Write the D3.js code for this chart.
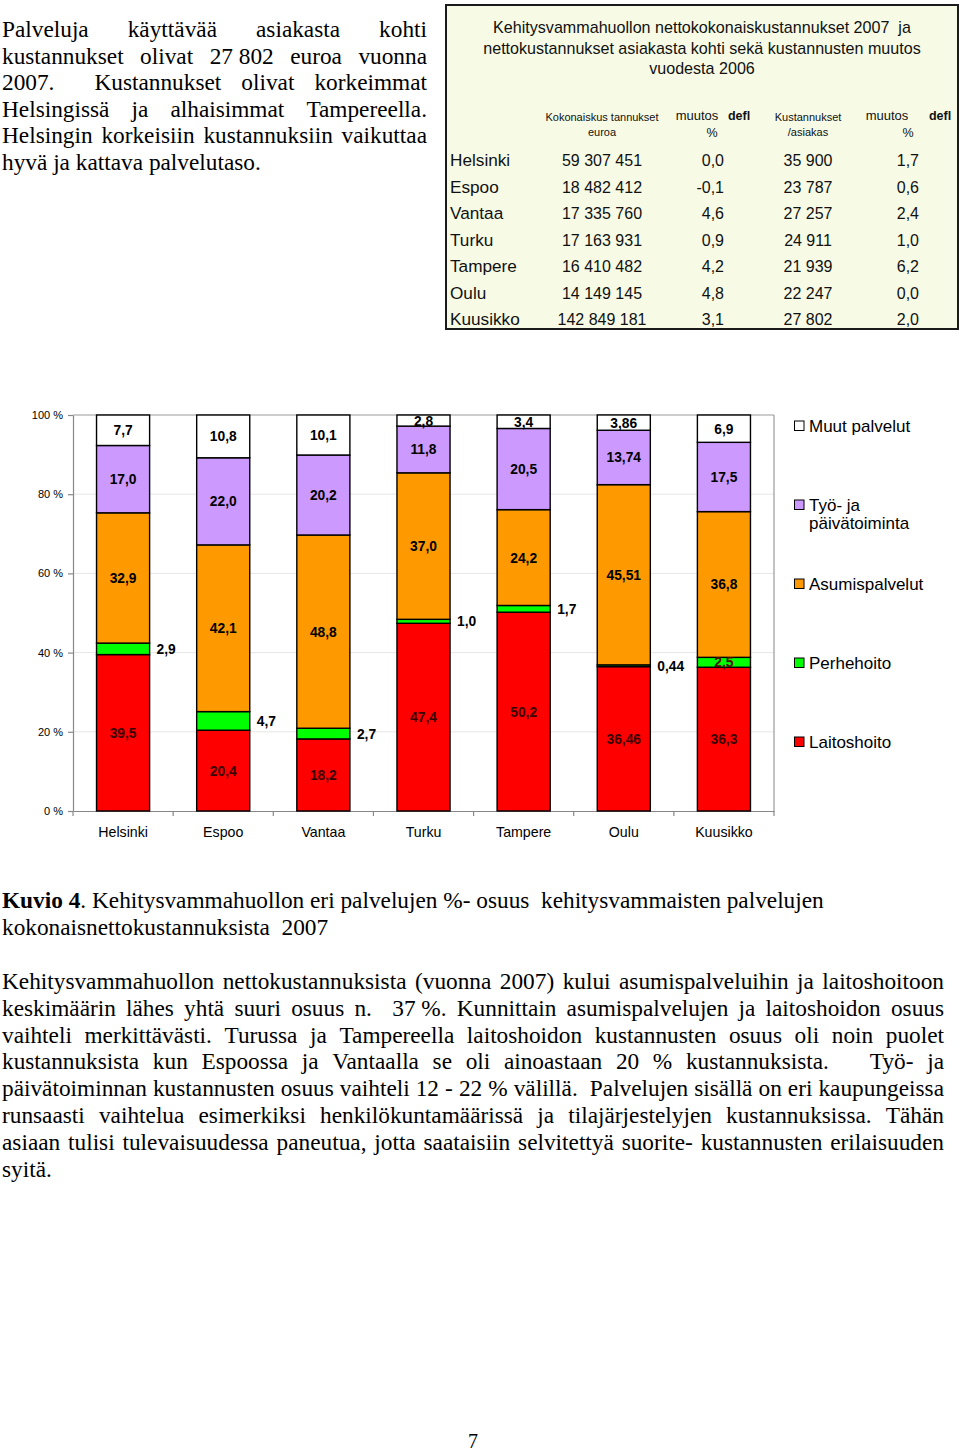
<!DOCTYPE html>
<html>
<head>
<meta charset="utf-8">
<script src="https://cdn.jsdelivr.net/npm/d3@7"></script>
<style>
  html, body { margin: 0; padding: 0; background: #fff; }
  svg { display: block; }
  .pre { white-space: pre; }
</style>
</head>
<body>
<script>
// ---------------- DATA ----------------
const cities = ["Helsinki", "Espoo", "Vantaa", "Turku", "Tampere", "Oulu", "Kuusikko"];
const seriesKeys = ["Laitoshoito", "Perhehoito", "Asumispalvelut", "Työ- ja päivätoiminta", "Muut palvelut"];
const laitoshoito      = [39.5, 20.4, 18.2, 47.4, 50.2, 36.46, 36.3];
const perhehoito       = [2.9, 4.7, 2.7, 1.0, 1.7, 0.44, 2.5];
const asumispalvelut   = [32.9, 42.1, 48.8, 37.0, 24.2, 45.51, 36.8];
const tyoJaPaivatoiminta = [17.0, 22.0, 20.2, 11.8, 20.5, 13.74, 17.5];
const muutPalvelut     = [7.7, 10.8, 10.1, 2.8, 3.4, 3.86, 6.9];
const labelDecimals    = [1, 1, 1, 1, 1, 2, 1];
const yTicks = [0, 20, 40, 60, 80, 100];

// table
const tableTitle = ["Kehitysvammahuollon nettokokonaiskustannukset 2007  ja",
                    "nettokustannukset asiakasta kohti sekä kustannusten muutos",
                    "vuodesta 2006"];
const totalCosts      = [59307451, 18482412, 17335760, 17163931, 16410482, 14149145, 142849181];
const totalChange     = [0.0, -0.1, 4.6, 0.9, 4.2, 4.8, 3.1];
const costPerClient   = [35900, 23787, 27257, 24911, 21939, 22247, 27802];
const perClientChange = [1.7, 0.6, 2.4, 1.0, 6.2, 0.0, 2.0];

// texts
const introLines = [
  "Palveluja käyttävää asiakasta kohti",
  "kustannukset olivat 27\u00a0802 euroa vuonna",
  "2007.  Kustannukset olivat korkeimmat",
  "Helsingissä ja alhaisimmat Tampereella.",
  "Helsingin korkeisiin kustannuksiin vaikuttaa",
  "hyvä ja kattava palvelutaso."
];
const captionBold = "Kuvio 4";
const captionRest = ". Kehitysvammahuollon eri palvelujen %- osuus  kehitysvammaisten palvelujen";
const captionLine2 = "kokonaisnettokustannuksista  2007";
const bodyLines = [
  "Kehitysvammahuollon nettokustannuksista (vuonna 2007) kului asumispalveluihin ja laitoshoitoon",
  "keskimäärin lähes yhtä suuri osuus n.  37\u00a0%. Kunnittain asumispalvelujen ja laitoshoidon osuus",
  "vaihteli merkittävästi. Turussa ja Tampereella laitoshoidon kustannusten osuus oli noin puolet",
  "kustannuksista kun Espoossa ja Vantaalla se oli ainoastaan 20 % kustannuksista.   Työ- ja",
  "päivätoiminnan kustannusten osuus vaihteli 12 - 22 % välillä.  Palvelujen sisällä on eri kaupungeissa",
  "runsaasti vaihtelua esimerkiksi henkilökuntamäärissä ja tilajärjestelyjen kustannuksissa. Tähän",
  "asiaan tulisi tulevaisuudessa paneutua, jotta saataisiin selvitettyä suorite- kustannusten erilaisuuden",
  "syitä."
];
const pageNumber = "7";

// ---------------- STYLE ----------------
const SERIF = "'Liberation Serif','Times New Roman',serif";
const SANS = "'Liberation Sans',Arial,Helvetica,sans-serif";
const TEXT_SIZE = 23.3;
const colors = {
  "Laitoshoito": "#ff0000",
  "Perhehoito": "#00ff00",
  "Asumispalvelut": "#ff9900",
  "Työ- ja päivätoiminta": "#cc99ff",
  "Muut palvelut": "#ffffff"
};

const svg = d3.select("body").append("svg")
  .attr("width", 960).attr("height", 1453)
  .style("background", "#fff");

// ---------- justified text helper ----------
function drawLine(text, x0, x1, yBase, size, justify) {
  const g = svg.append("g");
  const words = text.split(" ");
  const tmp = svg.append("text").style("font-family", SERIF).style("font-size", size + "px");
  const widths = words.map(w => { tmp.text(w); return w === "" ? 0 : tmp.node().getComputedTextLength(); });
  tmp.text("a b"); const wab = tmp.node().getComputedTextLength();
  tmp.text("ab"); const spaceW = wab - tmp.node().getComputedTextLength();
  tmp.remove();
  const W = x1 - x0;
  const sum = d3.sum(widths);
  const n = words.length;
  let gap = spaceW, scale = 1;
  if (justify && n > 1) {
    gap = (W - sum) / (n - 1);
    const minGap = spaceW * 0.5;
    if (gap < minGap) { gap = minGap; scale = W / (sum + minGap * (n - 1)); }
  }
  const t = g.append("text")
    .attr("transform", `translate(${x0},${yBase}) scale(${scale},1)`)
    .style("font-family", SERIF).style("font-size", size + "px").attr("fill", "#000");
  let cx = 0;
  words.forEach((w, i) => {
    if (w !== "") t.append("tspan").attr("x", cx).attr("y", 0).text(w);
    cx += widths[i] + gap;
  });
}

// ---------- intro paragraph ----------
introLines.forEach((l, i) => {
  drawLine(l, 2, 427, 37 + i * 26.6, TEXT_SIZE, i < introLines.length - 1);
});

// ---------- table ----------
const tbl = svg.append("g");
tbl.append("rect").attr("x", 446).attr("y", 5).attr("width", 512).attr("height", 324)
  .attr("fill", "#f7fbe6").attr("stroke", "#1a1a1a").attr("stroke-width", 2);
tableTitle.forEach((t, i) => {
  tbl.append("text").attr("class", "pre").attr("x", 702).attr("y", 33 + i * 20.5).attr("text-anchor", "middle")
    .style("font-family", SANS).style("font-size", "16.1px").attr("fill", "#111").text(t);
});
function ttext(x, y, txt, size, anchor, bold) {
  tbl.append("text").attr("x", x).attr("y", y).attr("text-anchor", anchor || "middle")
    .style("font-family", SANS).style("font-size", size + "px")
    .style("font-weight", bold ? "bold" : "normal").attr("fill", "#111").text(txt);
}
ttext(602, 121, "Kokonaiskus tannukset", 11);
ttext(602, 136, "euroa", 11);
ttext(697, 120, "muutos", 13);
ttext(739, 120, "defl", 12.5, "middle", true);
ttext(712, 137, "%", 12.5);
ttext(808, 121, "Kustannukset", 11);
ttext(808, 136, "/asiakas", 11);
ttext(887, 120, "muutos", 13);
ttext(940, 120, "defl", 12.5, "middle", true);
ttext(908, 137, "%", 12.5);

const fmtInt = v => d3.format(",")(v).replace(/,/g, " ");
const fmt1 = v => d3.format(".1f")(v).replace(".", ",").replace("−", "-");
cities.forEach((c, i) => {
  const yb = 166 + i * 26.5;
  ttext(450, yb, c, 17.2, "start");
  ttext(602, yb, fmtInt(totalCosts[i]), 16);
  ttext(724, yb, fmt1(totalChange[i]), 16, "end");
  ttext(808, yb, fmtInt(costPerClient[i]), 16);
  ttext(919, yb, fmt1(perClientChange[i]), 16, "end");
});

// ---------- chart ----------
const x = d3.scaleBand().domain(cities).range([73, 774]).paddingInner(0.47).paddingOuter(0.235);
const y = d3.scaleLinear().domain([0, 100]).range([811, 415]);
const chart = svg.append("g");

// gridlines
chart.append("g").selectAll("line").data(yTicks.filter(d => d > 0 && d < 100)).join("line")
  .attr("x1", 73).attr("x2", 774).attr("y1", d => y(d)).attr("y2", d => y(d))
  .attr("stroke", "#e6e6e6").attr("stroke-width", 1);
// plot border top & right
chart.append("line").attr("x1", 73).attr("x2", 774).attr("y1", y(100)).attr("y2", y(100))
  .attr("stroke", "#9a9a9a").attr("stroke-width", 1.2);
chart.append("line").attr("x1", 774).attr("x2", 774).attr("y1", y(100)).attr("y2", y(0))
  .attr("stroke", "#9a9a9a").attr("stroke-width", 1.2);

// y axis
const yAxis = chart.append("g").attr("transform", "translate(73,0)")
  .call(d3.axisLeft(y).tickValues(yTicks).tickSize(5).tickPadding(5).tickSizeOuter(0)
    .tickFormat(d => d + " %"));
yAxis.selectAll("path,line").attr("stroke", "#888").attr("stroke-width", 1.2);
yAxis.selectAll("text").style("font-family", SANS).style("font-size", "11px").attr("fill", "#000");

// x axis
const xAxis = chart.append("g").attr("transform", `translate(0,${y(0)})`)
  .call(d3.axisBottom(x).tickSize(0).tickPadding(16).tickSizeOuter(0));
xAxis.select(".domain").attr("stroke", "#888").attr("stroke-width", 1.2);
xAxis.selectAll("text").style("font-family", SANS).style("font-size", "14.2px").attr("fill", "#000");
xAxis.append("g").selectAll("line").data(d3.range(cities.length + 1)).join("line")
  .attr("x1", i => x.range()[0] + i * x.step()).attr("x2", i => x.range()[0] + i * x.step())
  .attr("y1", 0).attr("y2", 5).attr("stroke", "#888").attr("stroke-width", 1.2);

// stack
const rows = cities.map((c, i) => ({
  city: c,
  "Laitoshoito": laitoshoito[i],
  "Perhehoito": perhehoito[i],
  "Asumispalvelut": asumispalvelut[i],
  "Työ- ja päivätoiminta": tyoJaPaivatoiminta[i],
  "Muut palvelut": muutPalvelut[i]
}));
const stacked = d3.stack().keys(seriesKeys)(rows);

const layers = chart.append("g").selectAll("g").data(stacked).join("g")
  .attr("fill", d => colors[d.key]);
layers.selectAll("rect").data(d => d).join("rect")
  .attr("x", d => x(d.data.city))
  .attr("y", d => y(d[1]))
  .attr("width", x.bandwidth())
  .attr("height", d => y(d[0]) - y(d[1]))
  .attr("stroke", "#000").attr("stroke-width", 1.4);

// value labels
const labels = chart.append("g");
stacked.forEach(layer => {
  layer.forEach((d, i) => {
    const v = d[1] - d[0];
    const txt = d3.format(`.${labelDecimals[i]}f`)(v).replace(".", ",");
    const cy = y((d[0] + d[1]) / 2);
    const outside = layer.key === "Perhehoito" && d.data.city !== "Kuusikko";
    let fill = "#000";
    if (layer.key === "Laitoshoito") fill = "#3a0000";
    if (layer.key === "Perhehoito" && !outside) fill = "#4a1000";
    labels.append("text")
      .attr("x", outside ? x(d.data.city) + x.bandwidth() + 7 : x(d.data.city) + x.bandwidth() / 2)
      .attr("y", cy).attr("dy", "0.36em")
      .attr("text-anchor", outside ? "start" : "middle")
      .style("font-family", SANS).style("font-size", "13.8px").style("font-weight", "bold")
      .attr("fill", fill).text(txt);
  });
});

// legend
const legendOrder = seriesKeys.slice().reverse();
const legend = chart.append("g");
legendOrder.forEach((k, i) => {
  const cy = 426 + i * 79;
  legend.append("rect").attr("x", 794.5).attr("y", cy - 5).attr("width", 9.5).attr("height", 9.5)
    .attr("fill", colors[k]).attr("stroke", "#000").attr("stroke-width", 1);
  const parts = k === "Työ- ja päivätoiminta" ? ["Työ- ja", "päivätoiminta"] : [k];
  parts.forEach((p, j) => {
    legend.append("text").attr("x", 809).attr("y", cy + j * 18).attr("dy", "0.36em")
      .style("font-family", SANS).style("font-size", "17px").attr("fill", "#000").text(p);
  });
});

// ---------- caption ----------
const cap = svg.append("text").attr("class", "pre").attr("x", 2).attr("y", 908)
  .style("font-family", SERIF).style("font-size", TEXT_SIZE + "px").attr("fill", "#000");
cap.append("tspan").style("font-weight", "bold").text(captionBold);
cap.append("tspan").text(captionRest);
svg.append("text").attr("class", "pre").attr("x", 2).attr("y", 935)
  .style("font-family", SERIF).style("font-size", TEXT_SIZE + "px").attr("fill", "#000")
  .text(captionLine2);

// ---------- body paragraph ----------
bodyLines.forEach((l, i) => {
  drawLine(l, 2, 944, 989 + i * 26.8, TEXT_SIZE, i < bodyLines.length - 1);
});

// page number
svg.append("text").attr("x", 473).attr("y", 1448).attr("text-anchor", "middle")
  .style("font-family", SERIF).style("font-size", "20px").attr("fill", "#000").text(pageNumber);
</script>
</body>
</html>
